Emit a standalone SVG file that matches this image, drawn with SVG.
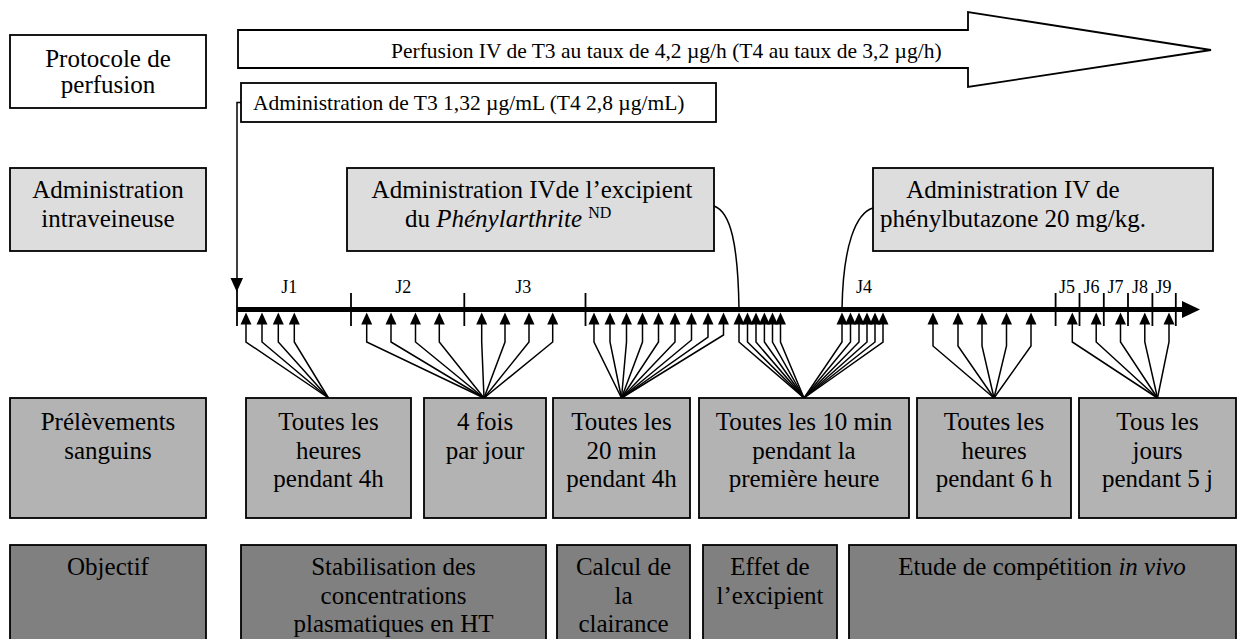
<svg xmlns="http://www.w3.org/2000/svg" xmlns:xlink="http://www.w3.org/1999/xlink" width="1237" height="639" viewBox="0 0 1237 639">
<style>
text{font-family:"Liberation Serif","Times New Roman",serif;fill:#000}
.lb{font-size:25px;text-anchor:middle}
.sm{font-size:21.5px}
.jl{font-size:18px;text-anchor:middle}
.b{stroke:#000;stroke-width:1.8}
.w{fill:#fff}
.g1{fill:#dddddd}
.g2{fill:#b3b3b3}
.g3{fill:#808080}
.ln{fill:none;stroke:#000;stroke-width:1.5}
.tk{stroke:#000;stroke-width:1.8}
</style>
<defs>
<polygon id="tri" points="0,0 -5.5,12 5.5,12" fill="#000"/>
</defs>
<rect width="1237" height="639" fill="#fff"/>

<g id="protocole">
<rect class="b w" x="10" y="35" width="196" height="73"/>
<text class="lb" x="108" y="67">Protocole de</text>
<text class="lb" x="108" y="93">perfusion</text>
</g>
<g id="perfusion">
<polygon class="b w" points="238,30 968,30 968,12 1211,50 968,87 968,68 238,68"/>
<text class="sm" x="391" y="57.5">Perfusion IV de T3 au taux de 4,2 µg/h (T4 au taux de 3,2 µg/h)</text>
</g>
<g id="admT3">
<rect class="b w" x="241" y="83" width="475" height="39"/>
<text class="sm" x="253" y="110">Administration de T3 1,32 µg/mL (T4 2,8 µg/mL)</text>
</g>

<g id="adminIV">
<rect class="b g1" x="10" y="168" width="196" height="83"/>
<text class="lb" x="108" y="198">Administration</text>
<text class="lb" x="108" y="227">intraveineuse</text>
</g>
<g id="excipient">
<rect class="b g1" x="347" y="168" width="367" height="83"/>
<text class="lb" x="532" y="198">Administration IVde l’excipient</text>
<text style="font-size:25px" x="405" y="227">du <tspan font-style="italic">Phénylarthrite</tspan> <tspan font-size="16" dy="-9">ND</tspan></text>
</g>
<g id="phenylbutazone">
<rect class="b g1" x="873" y="168" width="340" height="83"/>
<text class="lb" x="1013" y="198">Administration IV de</text>
<text class="lb" x="1013" y="227">phénylbutazone 20 mg/kg.</text>
</g>

<g id="timeline">
<line x1="237" y1="309.5" x2="1184" y2="309.5" stroke="#000" stroke-width="5"/>
<polygon points="1182,301 1200,309.5 1182,318" fill="#000"/>
<line class="tk" x1="237" y1="290" x2="237" y2="326"/>
<line class="tk" x1="351" y1="293" x2="351" y2="326"/>
<line class="tk" x1="464.3" y1="293" x2="464.3" y2="326"/>
<line class="tk" x1="585.5" y1="293" x2="585.5" y2="326"/>
<line class="tk" x1="1055.6" y1="293" x2="1055.6" y2="326"/>
<line class="tk" x1="1079.5" y1="293" x2="1079.5" y2="326"/>
<line class="tk" x1="1103.8" y1="293" x2="1103.8" y2="326"/>
<line class="tk" x1="1128" y1="293" x2="1128" y2="326"/>
<line class="tk" x1="1152.4" y1="293" x2="1152.4" y2="326"/>
<line class="tk" x1="1175.8" y1="293" x2="1175.8" y2="326"/>
<text class="jl" x="289.3" y="293">J1</text>
<text class="jl" x="403.3" y="293">J2</text>
<text class="jl" x="523.3" y="293">J3</text>
<text class="jl" x="864" y="293">J4</text>
<text class="jl" x="1067" y="293">J5</text>
<text class="jl" x="1091.4" y="293">J6</text>
<text class="jl" x="1115.5" y="293">J7</text>
<text class="jl" x="1140" y="293">J8</text>
<text class="jl" x="1163.5" y="293">J9</text>
</g>

<g id="connectors">
<path class="ln" d="M241,102.5 H237 V280"/>
<polygon points="230.5,278 243,278 236.8,292" fill="#000"/>
<path class="ln" d="M714,206 C731,212 738,245 739,309"/>
<path class="ln" d="M873,208 C856,213 843,245 842,309"/>
<!-- G1 -->
<use xlink:href="#tri" x="246" y="312.5"/><polyline class="ln" points="246,324 246,342 328.5,398"/>
<use xlink:href="#tri" x="262" y="312.5"/><polyline class="ln" points="262,324 262,342 328.5,398"/>
<use xlink:href="#tri" x="278.3" y="312.5"/><polyline class="ln" points="278.3,324 278.3,342 328.5,398"/>
<use xlink:href="#tri" x="294.3" y="312.5"/><polyline class="ln" points="294.3,324 294.3,342 328.5,398"/>
<!-- G2 -->
<use xlink:href="#tri" x="366.7" y="312.5"/><polyline class="ln" points="366.7,324 366.7,342 484,398"/>
<use xlink:href="#tri" x="391" y="312.5"/><polyline class="ln" points="391,324 391,342 484,398"/>
<use xlink:href="#tri" x="415.5" y="312.5"/><polyline class="ln" points="415.5,324 415.5,342 484,398"/>
<use xlink:href="#tri" x="439.3" y="312.5"/><polyline class="ln" points="439.3,324 439.3,342 484,398"/>
<use xlink:href="#tri" x="481.7" y="312.5"/><polyline class="ln" points="481.7,324 481.7,342 484,398"/>
<use xlink:href="#tri" x="505" y="312.5"/><polyline class="ln" points="505,324 505,342 484,398"/>
<use xlink:href="#tri" x="529" y="312.5"/><polyline class="ln" points="529,324 529,342 484,398"/>
<use xlink:href="#tri" x="552.7" y="312.5"/><polyline class="ln" points="552.7,324 552.7,342 484,398"/>
<!-- G3 -->
<use xlink:href="#tri" x="594" y="312.5"/><polyline class="ln" points="594,324 594,342 621.5,398"/>
<use xlink:href="#tri" x="610" y="312.5"/><polyline class="ln" points="610,324 610,342 621.5,398"/>
<use xlink:href="#tri" x="626.5" y="312.5"/><polyline class="ln" points="626.5,324 626.5,342 621.5,398"/>
<use xlink:href="#tri" x="642.5" y="312.5"/><polyline class="ln" points="642.5,324 642.5,342 621.5,398"/>
<use xlink:href="#tri" x="658.5" y="312.5"/><polyline class="ln" points="658.5,324 658.5,342 621.5,398"/>
<use xlink:href="#tri" x="675" y="312.5"/><polyline class="ln" points="675,324 675,342 621.5,398"/>
<use xlink:href="#tri" x="691.5" y="312.5"/><polyline class="ln" points="691.5,324 691.5,340 621.5,398"/>
<use xlink:href="#tri" x="708" y="312.5"/><polyline class="ln" points="708,324 708,337 621.5,398"/>
<use xlink:href="#tri" x="723.5" y="312.5"/><polyline class="ln" points="723.5,324 723.5,335 621.5,398"/>
<!-- G4 -->
<use xlink:href="#tri" x="739" y="312.5"/><polyline class="ln" points="739,324 739,342 804,398"/>
<use xlink:href="#tri" x="747.5" y="312.5"/><polyline class="ln" points="747.5,324 747.5,342 804,398"/>
<use xlink:href="#tri" x="756" y="312.5"/><polyline class="ln" points="756,324 756,342 804,398"/>
<use xlink:href="#tri" x="764.4" y="312.5"/><polyline class="ln" points="764.4,324 764.4,342 804,398"/>
<use xlink:href="#tri" x="772.5" y="312.5"/><polyline class="ln" points="772.5,324 772.5,342 804,398"/>
<use xlink:href="#tri" x="780.5" y="312.5"/><polyline class="ln" points="780.5,324 780.5,342 804,398"/>
<!-- G5 -->
<use xlink:href="#tri" x="842" y="312.5"/><polyline class="ln" points="842,324 842,342 804,398"/>
<use xlink:href="#tri" x="850.5" y="312.5"/><polyline class="ln" points="850.5,324 850.5,342 804,398"/>
<use xlink:href="#tri" x="859" y="312.5"/><polyline class="ln" points="859,324 859,342 804,398"/>
<use xlink:href="#tri" x="867" y="312.5"/><polyline class="ln" points="867,324 867,342 804,398"/>
<use xlink:href="#tri" x="875" y="312.5"/><polyline class="ln" points="875,324 875,342 804,398"/>
<use xlink:href="#tri" x="883" y="312.5"/><polyline class="ln" points="883,324 883,342 804,398"/>
<!-- G6 -->
<use xlink:href="#tri" x="933" y="312.5"/><polyline class="ln" points="933,324 933,346 994,398"/>
<use xlink:href="#tri" x="958" y="312.5"/><polyline class="ln" points="958,324 958,346 994,398"/>
<use xlink:href="#tri" x="982" y="312.5"/><polyline class="ln" points="982,324 982,346 994,398"/>
<use xlink:href="#tri" x="1006.5" y="312.5"/><polyline class="ln" points="1006.5,324 1006.5,346 994,398"/>
<use xlink:href="#tri" x="1031" y="312.5"/><polyline class="ln" points="1031,324 1031,346 994,398"/>
<!-- G7 -->
<use xlink:href="#tri" x="1072.3" y="312.5"/><polyline class="ln" points="1072.3,324 1072.3,342 1157.5,398"/>
<use xlink:href="#tri" x="1096.2" y="312.5"/><polyline class="ln" points="1096.2,324 1096.2,342 1157.5,398"/>
<use xlink:href="#tri" x="1120.5" y="312.5"/><polyline class="ln" points="1120.5,324 1120.5,342 1157.5,398"/>
<use xlink:href="#tri" x="1144.8" y="312.5"/><polyline class="ln" points="1144.8,324 1144.8,342 1157.5,398"/>
<use xlink:href="#tri" x="1169" y="312.5"/><polyline class="ln" points="1169,324 1169,342 1157.5,398"/>
</g>

<g id="prelevements">
<rect class="b g2" x="10" y="398" width="196" height="120"/>
<text class="lb" x="108" y="430">Prélèvements</text>
<text class="lb" x="108" y="458.5">sanguins</text>
</g>
<g id="p-heures4h">
<rect class="b g2" x="246" y="398" width="165" height="120"/>
<text class="lb" x="328.5" y="430">Toutes les</text>
<text class="lb" x="328.5" y="458.5">heures</text>
<text class="lb" x="328.5" y="487">pendant 4h</text>
</g>
<g id="p-4fois">
<rect class="b g2" x="424" y="398" width="122" height="120"/>
<text class="lb" x="485" y="430">4 fois</text>
<text class="lb" x="485" y="458.5">par jour</text>
</g>
<g id="p-20min">
<rect class="b g2" x="553" y="398" width="137" height="120"/>
<text class="lb" x="621.5" y="430">Toutes les</text>
<text class="lb" x="621.5" y="458.5">20 min</text>
<text class="lb" x="621.5" y="487">pendant 4h</text>
</g>
<g id="p-10min">
<rect class="b g2" x="699" y="398" width="210" height="120"/>
<text class="lb" x="804" y="430">Toutes les 10 min</text>
<text class="lb" x="804" y="458.5">pendant la</text>
<text class="lb" x="804" y="487">première heure</text>
</g>
<g id="p-heures6h">
<rect class="b g2" x="917" y="398" width="154" height="120"/>
<text class="lb" x="994" y="430">Toutes les</text>
<text class="lb" x="994" y="458.5">heures</text>
<text class="lb" x="994" y="487">pendant 6 h</text>
</g>
<g id="p-jours">
<rect class="b g2" x="1079" y="398" width="157" height="120"/>
<text class="lb" x="1157.5" y="430">Tous les</text>
<text class="lb" x="1157.5" y="458.5">jours</text>
<text class="lb" x="1157.5" y="487">pendant 5 j</text>
</g>

<g id="objectif">
<rect class="b g3" x="10" y="545" width="196" height="100"/>
<text class="lb" x="108" y="575">Objectif</text>
</g>
<g id="o-stabilisation">
<rect class="b g3" x="241" y="545" width="305" height="100"/>
<text class="lb" x="393.5" y="575">Stabilisation des</text>
<text class="lb" x="393.5" y="603.5">concentrations</text>
<text class="lb" x="393.5" y="632">plasmatiques en HT</text>
</g>
<g id="o-clairance">
<rect class="b g3" x="557" y="545" width="133" height="100"/>
<text class="lb" x="623.5" y="575">Calcul de</text>
<text class="lb" x="623.5" y="603.5">la</text>
<text class="lb" x="623.5" y="632">clairance</text>
</g>
<g id="o-excipient">
<rect class="b g3" x="703" y="545" width="134" height="100"/>
<text class="lb" x="770" y="575">Effet de</text>
<text class="lb" x="770" y="603.5">l’excipient</text>
</g>
<g id="o-competition">
<rect class="b g3" x="849" y="545" width="387" height="100"/>
<text class="lb" x="1042" y="575">Etude de compétition <tspan font-style="italic">in vivo</tspan></text>
</g>
</svg>
